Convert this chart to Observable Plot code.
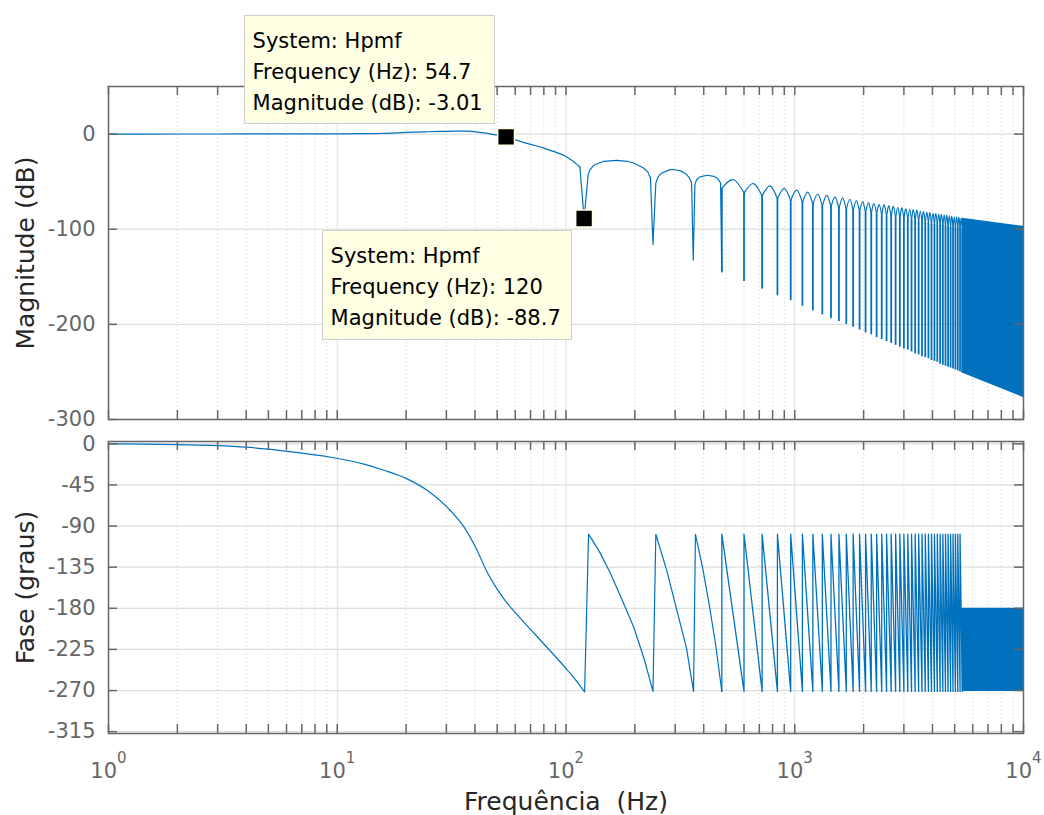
<!DOCTYPE html>
<html><head><meta charset="utf-8">
<script src="https://cdn.jsdelivr.net/npm/d3@7"></script>
<script src="https://cdn.jsdelivr.net/npm/@observablehq/plot@0.6"></script>
<style>
html,body{margin:0;padding:0;background:#fff;}
#wrap{position:relative;width:1044px;height:815px;overflow:hidden;font-family:"DejaVu Sans";}
#wrap svg{position:absolute;left:0;overflow:visible;background:transparent;}
#wrap svg text{white-space:pre;}
.tip{position:absolute;box-sizing:border-box;background:#ffffe4;border:1px solid #cdcdcd;font-family:"DejaVu Sans";font-size:21px;line-height:31px;color:#000;padding:10px 0 0 8px;white-space:nowrap;z-index:5;}
</style></head><body><div id="wrap"></div>
<script>
// ---------- data ----------
// magnitude: pass band, first notches and first lobes
const magHz = [1,2,3,5,7,10,13,16,20,24,28,33,37,41,44,47,51,54.7,61,70,80,90,100,106,112,115,120,125,127,132,146,167,185,197,210,218,228,234,240,247,252,260,285,300,317,335,345,354,360,366,372,385,415,444,462,474,480];
const magDb = [0,0.05,0.1,0.15,0.2,0.3,0.45,0.8,1.7,2.3,2.8,3.1,3.0,2.1,1.2,0,-1.4,-3.01,-6.6,-10.8,-14.7,-19,-23.5,-27.5,-32.1,-34.5,-88.7,-42.6,-38,-32.8,-28.6,-27.6,-28.6,-30.4,-33.5,-35.7,-40,-46.2,-116,-51.4,-45.5,-41.5,-37.4,-37.5,-38.7,-42,-45.5,-51.4,-132.5,-53.1,-48,-45,-43.3,-44.5,-47,-51.5,-145];
// phase: low band and first saw-tooth segments
const phaseHz = [1,2,3,4,5,7,9.34,13.1,16,20.2,24.8,30.3,35.9,40.3,45.3,50,54,58.2,69.9,82.9,101,110,120.6,125.5,140,156,176,198,220,240,247,276,303,336,361,368,395,420,450,480];
const phaseDeg = [0,-1,-2,-3.7,-5.9,-10.3,-14.7,-22.3,-29,-38.4,-51.2,-69.6,-91.5,-113.5,-140.9,-159,-171,-181,-203,-223.2,-247,-258,-271.5,-98.8,-118,-141,-171,-201,-236,-271,-99,-139,-179,-223,-271,-99,-135,-172,-218,-271];
// notches (comb region)
const notchHz = [480,600,720,840,960,1080,1200,1320,1440,1560,1680,1800,1920,2040,2160,2280,2400,2520,2640,2760,2880,3000,3120,3240,3360,3480,3600,3720,3840,3960,4080,4200,4320,4440,4560,4680,4800,4920,5040,5160,5280,5400];
const notchDb = [-145,-155,-163,-170,-175,-181,-186,-190,-194,-197,-200,-203,-206,-209,-211,-214,-216,-218,-220,-222,-224,-226,-227,-229,-231,-232,-234,-235,-236,-238,-239,-240,-242,-243,-244,-245,-246,-247,-248,-249,-250,-251];
const spikeTopDb = [-57,-62,-65,-68,-70,-72,-74,-76,-77,-79,-80,-81,-82,-83,-84,-85,-86,-87,-88,-89,-89,-90,-91,-91,-92,-93,-93,-94,-94,-95,-95,-96,-96,-97,-97,-98,-98,-99,-99,-99,-100,-100];
const lobePeakHz = [540,660,780,900,1020,1140,1260,1380,1500,1620,1740,1860,1980,2100,2220,2340,2460,2580,2700,2820,2940,3060,3180,3300,3420,3540,3660,3780,3900,4020,4140,4260,4380,4500,4620,4740,4860,4980,5100,5220,5340];
const lobePeakDb = [-48,-52,-54.5,-57,-59,-61,-63,-64.5,-66,-67,-68.5,-70,-71,-72,-73,-74,-74.5,-75.5,-76,-77,-77.5,-78.5,-79,-79.5,-80,-81,-81.5,-82,-82.5,-83,-83.5,-84,-84.5,-85,-85.5,-86,-86.5,-87,-87,-87.5,-88];
const phaseJumpDeg = [-99,-99,-99,-99,-99,-99,-99,-99,-99,-99,-99,-99,-99,-99,-99,-99,-99,-99,-99,-99,-99,-99,-99,-99,-99,-99,-99,-99,-99,-99,-99,-99,-99,-99,-99,-99,-99,-99,-99,-99,-99,-180];
const phaseFloorDeg = -271;
// dense (unresolved) region
const denseHz = [5400, 10000];
const denseMagTopDb = [-88.5, -97];
const denseMagBottomDb = [-251, -277];
const densePhaseTopDeg = [-180, -180];
const densePhaseBottomDeg = [-271, -271];
// data tips
const tipSystem = ["Hpmf", "Hpmf"];
const tipHz = [54.7, 120];
const tipDb = [-3.01, -88.7];
const tipFreqText = ["54.7", "120"];
const tipMagText = ["-3.01", "-88.7"];
// axes
const xMajor = [1, 10, 100, 1000, 10000];
const xExponents = ["0", "1", "2", "3", "4"];
const xMinor = [2,3,4,5,6,7,8,9,20,30,40,50,60,70,80,90,200,300,400,500,600,700,800,900,2000,3000,4000,5000,6000,7000,8000,9000];
const magTicks = [0, -100, -200, -300];
const phaseTicks = [0, -45, -90, -135, -180, -225, -270, -315];
const magLabel = "Magnitude (dB)";
const phaseLabel = "Fase (graus)";
const xLabel = "Frequência  (Hz)";
const smoothUntilHz = 115; // smooth pass band, sharp notches after

// ---------- build tables ----------
const magLine = magHz.map((f, i) => ({f, v: magDb[i]}));
const magSmooth = magLine.filter(d => d.f <= smoothUntilHz);
const magSharp = magLine.filter(d => d.f >= smoothUntilHz);
const arches = [];
lobePeakHz.forEach((f, i) => {
  arches.push({f: notchHz[i], v: spikeTopDb[i], z: i});
  arches.push({f, v: lobePeakDb[i], z: i});
  arches.push({f: notchHz[i + 1], v: spikeTopDb[i + 1], z: i});
});
const spikes = notchHz.map((f, i) => ({f, top: spikeTopDb[i], bottom: notchDb[i]}));
const denseMag = denseHz.map((f, i) => ({f, top: denseMagTopDb[i], bottom: denseMagBottomDb[i]}));
const phaseLine = phaseHz.map((f, i) => ({f, v: phaseDeg[i]}));
const phaseSmooth = phaseLine.filter(d => d.f <= 110);
const phaseSharp = phaseLine.filter(d => d.f >= 110);
const saw = [];
notchHz.forEach((f, i) => { saw.push({f, v: phaseFloorDeg}); saw.push({f, v: phaseJumpDeg[i]}); });
const densePhase = denseHz.map((f, i) => ({f, top: densePhaseTopDeg[i], bottom: densePhaseBottomDeg[i]}));
const tips = tipHz.map((f, i) => ({f, v: tipDb[i]}));

// ---------- styling ----------
const W = 1044, ML = 108, MR = 21, TK = 9;
const blue = "#0072BD", frameC = "#666666", gridC = "#dedede", minorC = "#c8c8c8";
const xAll = xMajor.concat(xMinor);

function panel({height, mt, mb, yDomain, yTicks, label, marks}) {
  const pw = W - ML - MR, ph = height - mt - mb;
  return Plot.plot({
    width: W, height, marginLeft: ML, marginRight: MR, marginTop: mt, marginBottom: mb,
    style: {fontFamily: "DejaVu Sans", fontSize: "21px", color: "#666", background: "transparent", overflow: "visible"},
    x: {type: "log", domain: [1, 10000], axis: null},
    y: {domain: yDomain, axis: null},
    marks: [
      Plot.ruleX(xMinor, {x: d => d, stroke: minorC, strokeWidth: 1, strokeDasharray: "1,3"}),
      Plot.ruleX(xMajor, {x: d => d, stroke: gridC, strokeWidth: 1}),
      Plot.ruleY(yTicks, {y: d => d, stroke: gridC, strokeWidth: 1.2}),
      ...marks,
      Plot.frame({stroke: frameC, strokeWidth: 1.5}),
      Plot.ruleX(xAll, {x: d => d, stroke: frameC, strokeWidth: 1.5, insetTop: ph - TK}),
      Plot.ruleX(xAll, {x: d => d, stroke: frameC, strokeWidth: 1.5, insetBottom: ph - TK}),
      Plot.ruleY(yTicks, {y: d => d, stroke: frameC, strokeWidth: 1.5, insetRight: pw - TK}),
      Plot.ruleY(yTicks, {y: d => d, stroke: frameC, strokeWidth: 1.5, insetLeft: pw - TK}),
      Plot.text(yTicks, {y: d => d, frameAnchor: "left", dx: -13, textAnchor: "end", text: d => String(d), fill: "#666", fontSize: 21}),
      Plot.text([label], {frameAnchor: "left", dx: -83, rotate: -90, textAnchor: "middle", text: d => d, fill: "#262626", fontSize: 25})
    ]
  });
}

const magChart = panel({
  height: 432, mt: 86, mb: 13, yDomain: [-300, 50], yTicks: magTicks, label: magLabel,
  marks: [
    Plot.line(magSmooth, {x: "f", y: "v", curve: "monotone-x", stroke: blue, strokeWidth: 1.2, clip: true}),
    Plot.line(magSharp, {x: "f", y: "v", stroke: blue, strokeWidth: 1.2, clip: true}),
    Plot.line(arches, {x: "f", y: "v", z: "z", curve: "natural", stroke: blue, strokeWidth: 1.2, clip: true}),
    Plot.ruleX(spikes, {x: "f", y1: "top", y2: "bottom", stroke: blue, strokeWidth: 1.8, clip: true}),
    Plot.areaY(denseMag, {x: "f", y1: "bottom", y2: "top", fill: blue, clip: true}),
    Plot.dot(tips, {x: "f", y: "v", symbol: "square", r: 9.5, fill: "black", stroke: "#ffffe0", strokeWidth: 1.5})
  ]
});

const phaseChart = panel({
  height: 383, mt: 9, mb: 82, yDomain: [-317, 2.5], yTicks: phaseTicks, label: phaseLabel,
  marks: [
    Plot.line(phaseSmooth, {x: "f", y: "v", curve: "monotone-x", stroke: blue, strokeWidth: 1.2, clip: true}),
    Plot.line(phaseSharp, {x: "f", y: "v", stroke: blue, strokeWidth: 1.2, clip: true}),
    Plot.line(saw, {x: "f", y: "v", stroke: blue, strokeWidth: 1.3, clip: true}),
    Plot.areaY(densePhase, {x: "f", y1: "bottom", y2: "top", fill: blue, clip: true}),
    Plot.text(xMajor, {x: d => d, frameAnchor: "bottom", dy: 44, lineAnchor: "bottom", text: (d, i) => "10^" + xExponents[i], fill: "#666", fontSize: 21}),
    Plot.text([xLabel], {frameAnchor: "bottom", dy: 76, lineAnchor: "bottom", text: d => d, fill: "#262626", fontSize: 25})
  ]
});

const wrap = document.getElementById("wrap");
magChart.style.top = "0px";
phaseChart.style.top = "432px";
wrap.appendChild(magChart);
wrap.appendChild(phaseChart);

// superscript exponents on the x tick labels
const ns = "http://www.w3.org/2000/svg";
phaseChart.querySelectorAll("text").forEach(t => {
  if (t.childElementCount === 0 && t.textContent.includes("^")) {
    const [base, exp] = t.textContent.split("^");
    t.textContent = "";
    const a = document.createElementNS(ns, "tspan"); a.textContent = base;
    const b = document.createElementNS(ns, "tspan"); b.textContent = exp;
    b.setAttribute("dy", "-15"); b.setAttribute("font-size", "15");
    t.append(a, b);
  }
});

// data tips (positioned from the scales)
const sx = magChart.scale("x"), sy = magChart.scale("y");
const tipBoxes = [
  {w: 251, h: 109, place: (mx, my) => ({left: mx - 11 - 251, top: my - 12 - 109})},
  {w: 250, h: 110, place: (mx, my) => ({left: mx - 12 - 250, top: my + 12.5})}
];
tipHz.forEach((f, i) => {
  const mx = sx.apply(f), my = sy.apply(tipDb[i]);
  const b = tipBoxes[i], p = b.place(mx, my);
  const d = document.createElement("div");
  d.className = "tip";
  d.style.left = p.left + "px"; d.style.top = p.top + "px";
  d.style.width = b.w + "px"; d.style.height = b.h + "px";
  d.innerHTML = `System: ${tipSystem[i]}<br>Frequency (Hz): ${tipFreqText[i]}<br>Magnitude (dB): ${tipMagText[i]}`;
  wrap.appendChild(d);
});
</script></body></html>
